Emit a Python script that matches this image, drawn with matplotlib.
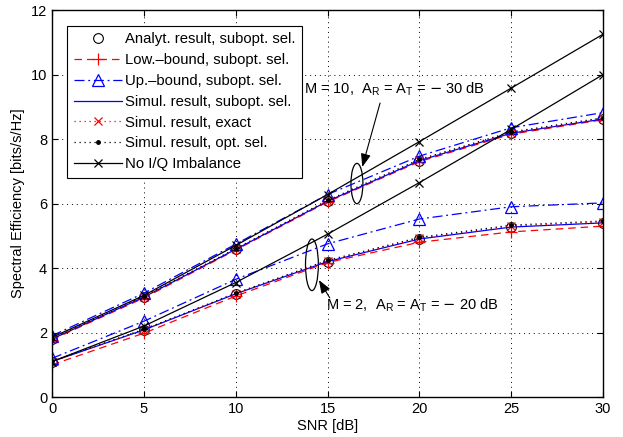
import matplotlib
matplotlib.use("Agg")
import matplotlib.pyplot as plt
from matplotlib.patches import Ellipse

plt.rcParams['font.family'] = ['Liberation Sans', 'DejaVu Sans']

snr = [0, 5, 10, 15, 20, 25, 30]

# M = 10 group
m10_noiq = [1.85, 3.15, 4.70, 6.28, 7.92, 9.58, 11.25]
m10_analyt = [1.80, 3.10, 4.58, 6.07, 7.33, 8.18, 8.62]
m10_low = [1.78, 3.07, 4.56, 6.05, 7.30, 8.15, 8.60]
m10_up = [1.90, 3.22, 4.74, 6.28, 7.47, 8.35, 8.82]
m10_sim_sub = [1.80, 3.10, 4.58, 6.07, 7.33, 8.18, 8.62]
m10_sim_exact = [1.80, 3.11, 4.59, 6.08, 7.35, 8.20, 8.64]
m10_sim_opt = [1.81, 3.12, 4.60, 6.10, 7.37, 8.22, 8.66]

# M = 2 group
m2_noiq = [1.10, 2.20, 3.55, 5.05, 6.65, 8.30, 10.00]
m2_analyt = [1.10, 2.08, 3.20, 4.20, 4.90, 5.27, 5.40]
m2_low = [1.00, 1.98, 3.13, 4.17, 4.80, 5.12, 5.30]
m2_up = [1.20, 2.35, 3.65, 4.75, 5.52, 5.90, 6.02]
m2_sim_sub = [1.10, 2.08, 3.20, 4.20, 4.90, 5.27, 5.40]
m2_sim_exact = [1.10, 2.09, 3.21, 4.22, 4.93, 5.30, 5.43]
m2_sim_opt = [1.11, 2.10, 3.22, 4.24, 4.95, 5.33, 5.46]

labels = ["Analyt. result, subopt. sel.", "Low.\u2013bound, subopt. sel.",
          "Up.\u2013bound, subopt. sel.", "Simul. result, subopt. sel.",
          "Simul. result, exact", "Simul. result, opt. sel.", "No I/Q Imbalance"]

fig = plt.figure(figsize=(6.23, 4.37), dpi=100)
ax = fig.add_axes([0.0835, 0.0915, 0.8845, 0.8855])

styles = [
    dict(linestyle='none', marker='o', color='black', markerfacecolor='none', markersize=7, markeredgewidth=0.8),
    dict(linestyle=(0, (6, 4)), marker='+', color='red', markersize=8, linewidth=0.9, markeredgewidth=0.9),
    dict(linestyle=(0, (8, 3, 1.5, 3)), marker='^', color='blue', markerfacecolor='none', markersize=8, linewidth=0.9, markeredgewidth=0.9),
    dict(linestyle='-', color='blue', linewidth=0.9),
    dict(linestyle=(0, (1, 3)), marker='x', color='red', markersize=6, linewidth=0.9, markeredgewidth=0.9),
    dict(linestyle=(0, (1, 3)), marker='.', color='black', markersize=5, linewidth=0.9),
    dict(linestyle='-', marker='x', color='black', markersize=6, linewidth=0.9, markeredgewidth=0.9),
]

groups = [
    [m10_analyt, m10_low, m10_up, m10_sim_sub, m10_sim_exact, m10_sim_opt, m10_noiq],
    [m2_analyt, m2_low, m2_up, m2_sim_sub, m2_sim_exact, m2_sim_opt, m2_noiq],
]

handles = []
for gi, grp in enumerate(groups):
    for i, ys in enumerate(grp):
        h, = ax.plot(snr, ys, label=labels[i] if gi == 0 else None, **styles[i])
        if gi == 0:
            handles.append(h)

ax.set_xlim(0, 30)
ax.set_ylim(0, 12)
ax.set_xticks([0, 5, 10, 15, 20, 25, 30])
ax.set_yticks([0, 2, 4, 6, 8, 10, 12])
ax.grid(True, linestyle=(0, (1, 4)), color='black', linewidth=0.7)
ax.tick_params(direction='in', top=True, right=True, labelsize=10.5, length=4)
for s in ax.spines.values():
    s.set_linewidth(1.0)
ax.set_xlabel("SNR [dB]", fontsize=10.5, labelpad=2)
ax.set_ylabel("Spectral Efficiency [bits/s/Hz]", fontsize=10.5, labelpad=4)

leg = ax.legend(handles=handles, loc='upper left', bbox_to_anchor=(0.028, 0.96),
                prop={'size': 10.7}, frameon=True, fancybox=False, edgecolor='black',
                framealpha=1, borderpad=0.45, labelspacing=0.46, handlelength=3.2,
                handletextpad=0.2, borderaxespad=0.0)
leg.get_frame().set_linewidth(0.8)

# Ellipses and annotations
ax.add_patch(Ellipse((16.6, 6.62), 0.65, 1.25, fill=False, edgecolor='black', linewidth=0.9))
ax.add_patch(Ellipse((14.15, 4.1), 0.7, 1.6, fill=False, edgecolor='black', linewidth=0.9))

ax.annotate("", xy=(16.85, 7.05), xytext=(17.9, 9.2),
            arrowprops=dict(arrowstyle='-|>,head_length=0.8,head_width=0.3', color='black', linewidth=0.8))
ax.text(13.7, 9.55, r"M = 10,  A$_\mathregular{R}$ = A$_\mathregular{T}$ = $-$ 30 dB", fontsize=10.5,
        va='center', ha='left')

ax.annotate("", xy=(14.45, 3.7), xytext=(15.2, 3.0),
            arrowprops=dict(arrowstyle='-|>,head_length=0.8,head_width=0.3', color='black', linewidth=0.8))
ax.text(14.9, 2.85, r"M = 2,  A$_\mathregular{R}$ = A$_\mathregular{T}$ = $-$ 20 dB", fontsize=10.5,
        va='center', ha='left')

fig.savefig("out.png", dpi=100)
